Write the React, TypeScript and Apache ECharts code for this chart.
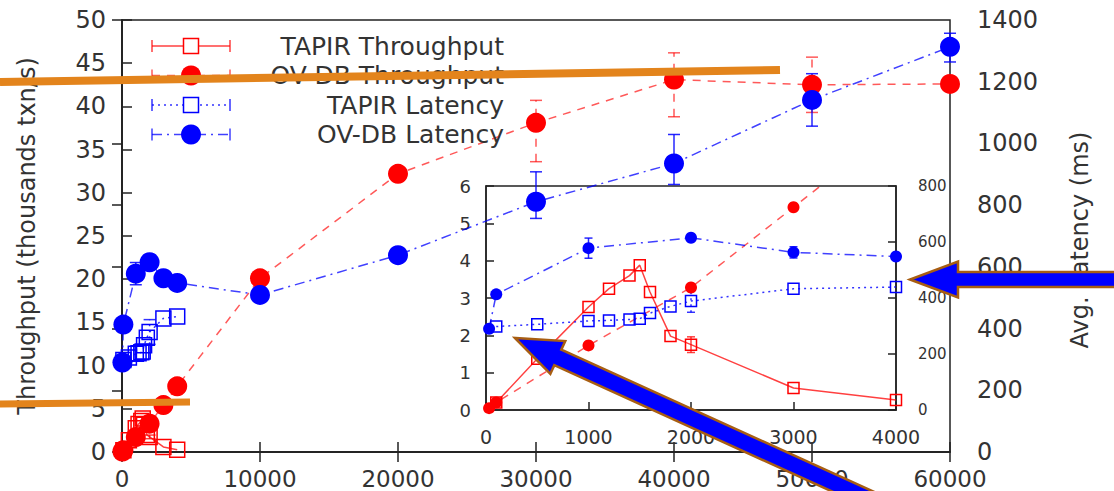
import React, { useEffect, useRef } from "react";
import * as echarts from "echarts";

// ---------- data ----------
const tapirX = [100, 500, 1000, 1200, 1400, 1500, 1600, 1800, 2000, 3000, 4000];
const tapirThroughput = [0.2, 1.37, 2.76, 3.25, 3.6, 3.88, 3.16, 1.98, 1.75, 0.59, 0.27];
const tapirThroughputErr = [0, 0, 0, 0, 0, 0, 0, 0, 0.21, 0, 0];
const tapirLatency = [298, 306, 318, 320, 323, 326, 346, 370, 389, 433, 439];
const tapirLatencyErr = [0, 0, 0, 0, 0, 0, 0, 0, 40, 0, 0];

const ovdbX = [30, 100, 1000, 2000, 3000, 4000, 10000, 20000, 30000, 40000, 50000, 60000];
const ovdbThroughput = [0.05, 0.2, 1.73, 3.28, 5.43, 7.6, 20.1, 32.2, 38.1, 43.1, 42.5, 42.6];
const ovdbThroughputErrLow = [0, 0, 0, 0, 0, 0, 0, 0, 4.5, 4.3, 3.2, 0];
const ovdbThroughputErrHigh = [0, 0, 0, 0, 0, 0, 0, 0, 2.6, 3.1, 3.2, 0];
const ovdbLatency = [290, 413, 578, 615, 563, 548, 509, 638, 811, 935, 1141, 1313];
const ovdbLatencyErrLow = [0, 0, 36, 0, 20, 0, 0, 0, 54, 68, 85, 49];
const ovdbLatencyErrHigh = [0, 0, 36, 0, 20, 0, 0, 0, 97, 94, 85, 44];

const legendNames = ["TAPIR Throughput", "OV-DB Throughput", "TAPIR Latency", "OV-DB Latency"];
const leftTitle = "Throughput (thousands txn/s)";
const rightTitle = "Avg. Latency (ms)";

// ---------- styles ----------
const FONT = "DejaVu Sans";
const RED = "#ff0000";
const BLUE = "#0000ff";
const TXT = "#333333";
const AXIS = "#222222";
const ORANGE = "#E3841C";
const ARROW_EDGE = "#A85E12";
const INSET_MAX_X = 4000;

const DASH_OV_T = [8, 7];
const DASH_TAPIR_L = [2, 4];
const DASH_OV_L = [10, 5, 2, 5];

const pairs = (xs: number[], ys: number[], maxX?: number) =>
  xs.map((x, i) => [x, ys[i]]).filter((d) => maxX == null || d[0] <= maxX);

const errPairs = (xs: number[], ys: number[], lo: number[], hi: number[], maxX?: number) =>
  xs
    .map((x, i) => ({ x, y: ys[i], lo: lo[i], hi: hi[i] }))
    .filter((d) => (d.lo > 0 || d.hi > 0) && (maxX == null || d.x <= maxX))
    .map((d) => [d.x, d.y - d.lo, d.y + d.hi]);

const errRender = (color: string, dash: number[] | null, cap: number, width: number, opacity: number) =>
  (params: any, api: any) => {
    const x = api.value(0);
    const a = api.coord([x, api.value(1)]);
    const b = api.coord([x, api.value(2)]);
    const style: any = { stroke: color, lineWidth: width, opacity };
    return {
      type: "group",
      children: [
        { type: "line", shape: { x1: a[0], y1: a[1], x2: b[0], y2: b[1] }, style: { ...style, lineDash: dash } },
        { type: "line", shape: { x1: a[0] - cap, y1: a[1], x2: a[0] + cap, y2: a[1] }, style },
        { type: "line", shape: { x1: b[0] - cap, y1: b[1], x2: b[0] + cap, y2: b[1] }, style },
      ],
    };
  };

function arrowPoints(tip: number[], dir: number[], length: number, headLen: number, headHalf: number, shaftHalf: number) {
  const l = Math.hypot(dir[0], dir[1]);
  const d = [dir[0] / l, dir[1] / l];
  const n = [-d[1], d[0]];
  const P = (a: number, b: number) => [tip[0] + d[0] * a + n[0] * b, tip[1] + d[1] * a + n[1] * b];
  return [P(0, 0), P(headLen, headHalf), P(headLen, shaftHalf), P(length, shaftHalf), P(length, -shaftHalf), P(headLen, -shaftHalf), P(headLen, -headHalf)];
}

function buildOption() {
  const hollow = (c: string) => ({ color: "rgba(0,0,0,0)", borderColor: c, borderWidth: 1.5 });

  const mkLine = (
    name: string, xi: number, yi: number, data: number[][], symbol: string, size: number,
    itemStyle: any, color: string, dash: any, opacity: number
  ) => ({
    name, type: "line", xAxisIndex: xi, yAxisIndex: yi, data, symbol, symbolSize: size,
    itemStyle, lineStyle: { color, width: 1.5, type: dash, opacity }, clip: true, z: 4, silent: true,
  });

  const mkErr = (xi: number, yi: number, data: number[][], color: string, dash: any, cap: number, opacity: number) => ({
    type: "custom", xAxisIndex: xi, yAxisIndex: yi, data, encode: { x: 0, y: [1, 2] },
    renderItem: errRender(color, dash, cap, 1.5, opacity), z: 3, silent: true, clip: false,
  });

  const series: any[] = [];
  const groups = [
    { xi: 0, yT: 0, yL: 1, sq: 15, ci: 20, cap: 6, max: undefined as number | undefined },
    { xi: 2, yT: 2, yL: 3, sq: 11, ci: 12, cap: 4, max: INSET_MAX_X },
  ];
  groups.forEach((g) => {
    series.push(mkLine(legendNames[0], g.xi, g.yT, pairs(tapirX, tapirThroughput, g.max), "rect", g.sq, hollow(RED), RED, "solid", 0.75));
    series.push(mkLine(legendNames[1], g.xi, g.yT, pairs(ovdbX, ovdbThroughput, g.max), "circle", g.ci, { color: RED }, RED, DASH_OV_T, 0.65));
    series.push(mkLine(legendNames[2], g.xi, g.yL, pairs(tapirX, tapirLatency, g.max), "rect", g.sq, hollow(BLUE), BLUE, DASH_TAPIR_L, 0.8));
    series.push(mkLine(legendNames[3], g.xi, g.yL, pairs(ovdbX, ovdbLatency, g.max), "circle", g.ci, { color: BLUE }, BLUE, DASH_OV_L, 0.75));
    series.push(mkErr(g.xi, g.yT, errPairs(tapirX, tapirThroughput, tapirThroughputErr, tapirThroughputErr, g.max), RED, null, g.cap, 0.75));
    series.push(mkErr(g.xi, g.yT, errPairs(ovdbX, ovdbThroughput, ovdbThroughputErrLow, ovdbThroughputErrHigh, g.max), RED, DASH_OV_T, g.cap, 0.65));
    series.push(mkErr(g.xi, g.yL, errPairs(tapirX, tapirLatency, tapirLatencyErr, tapirLatencyErr, g.max), BLUE, DASH_TAPIR_L, g.cap, 0.8));
    series.push(mkErr(g.xi, g.yL, errPairs(ovdbX, ovdbLatency, ovdbLatencyErrLow, ovdbLatencyErrHigh, g.max), BLUE, null, g.cap, 0.85));
  });

  const plain = (v: number) => String(v);
  const axisCommon = (fontSize: number, margin: number, tickLen: number) => ({
    axisLine: { show: true, lineStyle: { color: AXIS, width: 1.5 } },
    axisTick: { show: true, inside: true, length: tickLen, lineStyle: { color: AXIS, width: 1.5 } },
    axisLabel: { fontSize, margin, color: TXT, fontFamily: FONT, formatter: plain },
    splitLine: { show: false },
  });

  // legend graphics
  const rowY = [46, 75.5, 105, 134.5];
  const lx1 = 152, lx2 = 230, lmx = 191, textRight = 504;
  const legendStyles = [
    { color: RED, dash: null, marker: "sq", op: 0.75 },
    { color: RED, dash: DASH_OV_T, marker: "ci", op: 0.65 },
    { color: BLUE, dash: DASH_TAPIR_L, marker: "sq", op: 0.8 },
    { color: BLUE, dash: DASH_OV_L, marker: "ci", op: 0.75 },
  ];
  const legendEls: any[] = [];
  legendNames.forEach((name, i) => {
    const y = rowY[i];
    const s = legendStyles[i];
    legendEls.push({ type: "line", shape: { x1: lx1, y1: y, x2: lx2, y2: y }, style: { stroke: s.color, lineWidth: 1.5, lineDash: s.dash, opacity: s.op } });
    legendEls.push({ type: "line", shape: { x1: lx1, y1: y - 6, x2: lx1, y2: y + 6 }, style: { stroke: s.color, lineWidth: 1.5, opacity: s.op } });
    legendEls.push({ type: "line", shape: { x1: lx2, y1: y - 6, x2: lx2, y2: y + 6 }, style: { stroke: s.color, lineWidth: 1.5, opacity: s.op } });
    if (s.marker === "sq") {
      legendEls.push({ type: "rect", shape: { x: lmx - 7.5, y: y - 7.5, width: 15, height: 15 }, style: { fill: "#fff", stroke: s.color, lineWidth: 1.5 } });
    } else {
      legendEls.push({ type: "circle", shape: { cx: lmx, cy: y, r: 10 }, style: { fill: s.color } });
    }
    legendEls.push({ type: "text", x: textRight, y, style: { text: name, fontFamily: FONT, fontSize: 25, fill: TXT, textAlign: "right", textVerticalAlign: "middle" } });
  });

  const graphic: any[] = [
    ...legendEls.map((e) => ({ ...e, z: 10 })),
    { type: "text", x: 27, y: 236, rotation: Math.PI / 2, z: 10, style: { text: leftTitle, fontFamily: FONT, fontSize: 24, fill: TXT, textAlign: "center", textVerticalAlign: "middle" } },
    { type: "text", x: 1080, y: 240, rotation: Math.PI / 2, z: 10, style: { text: rightTitle, fontFamily: FONT, fontSize: 24, fill: TXT, textAlign: "center", textVerticalAlign: "middle" } },
    // annotations
    { type: "line", z: 50, shape: { x1: 0, y1: 82, x2: 780, y2: 70 }, style: { stroke: ORANGE, lineWidth: 8 } },
    { type: "line", z: 50, shape: { x1: 0, y1: 404, x2: 190, y2: 402 }, style: { stroke: ORANGE, lineWidth: 7 } },
    { type: "polygon", z: 51, shape: { points: arrowPoints([910, 279.5], [1, 0], 230, 48, 18, 7.5) }, style: { fill: BLUE, stroke: ARROW_EDGE, lineWidth: 2.5, lineJoin: "miter" } },
    { type: "polygon", z: 51, shape: { points: arrowPoints([515, 338], [2.2, 1], 460, 47, 18, 8.5) }, style: { fill: BLUE, stroke: ARROW_EDGE, lineWidth: 2.5, lineJoin: "miter" } },
  ];

  return {
    animation: false,
    backgroundColor: "#ffffff",
    textStyle: { fontFamily: FONT },
    grid: [
      { left: 122, right: 164, top: 20, bottom: 39, show: true, borderColor: AXIS, borderWidth: 1.5, backgroundColor: "transparent", containLabel: false, outerBoundsMode: "none" },
      { left: 486, right: 218, top: 186, bottom: 81, show: true, borderColor: AXIS, borderWidth: 1.5, backgroundColor: "transparent", containLabel: false, outerBoundsMode: "none" },
    ],
    xAxis: [
      { type: "value", gridIndex: 0, position: "bottom", min: 0, max: 60000, interval: 10000, ...axisCommon(23, 15, 10) },
      { type: "value", gridIndex: 0, position: "top", min: 0, max: 60000, interval: 10000, ...axisCommon(23, 15, 10), axisLabel: { show: false } },
      { type: "value", gridIndex: 1, position: "bottom", min: 0, max: 4000, interval: 1000, ...axisCommon(19, 17, 8) },
    ],
    yAxis: [
      { type: "value", gridIndex: 0, position: "left", min: 0, max: 50, interval: 5, ...axisCommon(24, 16, 10) },
      { type: "value", gridIndex: 0, position: "right", min: 0, max: 1400, interval: 200, ...axisCommon(24, 27, 10) },
      { type: "value", gridIndex: 1, position: "left", min: 0, max: 6, interval: 1, ...axisCommon(18, 15, 8) },
      { type: "value", gridIndex: 1, position: "right", min: 0, max: 800, interval: 200, ...axisCommon(15, 22, 8) },
    ],
    series,
    graphic,
  };
}

export default function App() {
  const ref = useRef<HTMLDivElement>(null);
  useEffect(() => {
    document.body.style.margin = "0";
    const chart = echarts.init(ref.current as HTMLDivElement, null, { renderer: "svg" });
    chart.setOption(buildOption() as any);
    return () => chart.dispose();
  }, []);
  return <div ref={ref} style={{ width: 1114, height: 491 }} />;
}
